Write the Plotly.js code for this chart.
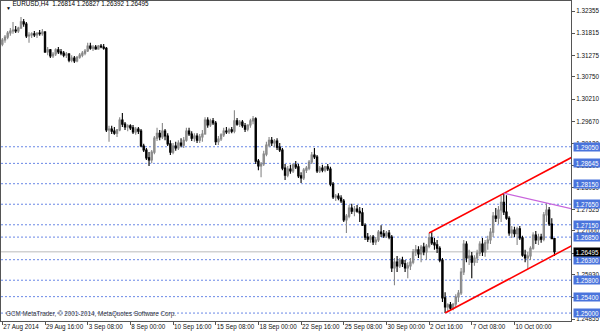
<!DOCTYPE html>
<html>
<head>
<meta charset="utf-8">
<script src="https://cdn.plot.ly/plotly-3.0.1.min.js"></script>
<style>html,body{margin:0;padding:0;background:#fff;}#chart{width:600px;height:333px;}</style>
</head>
<body>
<div id="chart"></div>
<script>
// ---- data (EURUSD H4 bars) ----
const opens = [1.3155,1.3165,1.3172,1.3182,1.3187,1.3189,1.3187,1.3194,1.3209,1.3204,
1.3175,1.3177,1.3180,1.3177,1.3182,1.3180,1.3184,1.3136,1.3141,1.3126,
1.3131,1.3141,1.3136,1.3133,1.3128,1.3131,1.3116,1.3121,1.3114,1.3123,
1.3128,1.3133,1.3138,1.3150,1.3145,1.3148,1.3143,1.3150,1.3148,1.3145,
1.2946,1.2948,1.2943,1.2938,1.2946,1.2970,1.2960,1.2953,1.2956,1.2951,
1.2941,1.2948,1.2943,1.2907,1.2897,1.2878,1.2873,1.2892,1.2926,1.2938,
1.2929,1.2943,1.2931,1.2912,1.2892,1.2907,1.2902,1.2914,1.2909,1.2921,
1.2943,1.2936,1.2926,1.2931,1.2921,1.2929,1.2936,1.2970,1.2958,1.2968,
1.2963,1.2917,1.2924,1.2934,1.2943,1.2941,1.2946,1.2943,1.2968,1.2960,
1.2965,1.2956,1.2948,1.2958,1.2968,1.2973,1.2870,1.2858,1.2863,1.2887,
1.2909,1.2921,1.2914,1.2919,1.2904,1.2897,1.2853,1.2836,1.2851,1.2846,
1.2861,1.2856,1.2834,1.2829,1.2848,1.2853,1.2868,1.2885,1.2880,1.2846,
1.2853,1.2848,1.2856,1.2851,1.2814,1.2783,1.2785,1.2780,1.2773,1.2727,
1.2736,1.2756,1.2748,1.2753,1.2748,1.2744,1.2714,1.2685,1.2680,1.2685,
1.2673,1.2678,1.2697,1.2693,1.2688,1.2695,1.2685,1.2610,1.2624,1.2615,
1.2629,1.2620,1.2610,1.2615,1.2624,1.2649,1.2654,1.2644,1.2661,1.2649,
1.2663,1.2683,1.2671,1.2666,1.2658,1.2629,1.2537,1.2515,1.2520,1.2512,
1.2522,1.2539,1.2549,1.2600,1.2668,1.2634,1.2639,1.2624,1.2634,1.2646,
1.2668,1.2649,1.2671,1.2678,1.2697,1.2736,1.2731,1.2751,1.2770,1.2746,
1.2731,1.2695,1.2702,1.2693,1.2705,1.2683,1.2641,1.2634,1.2639,1.2658,
1.2690,1.2678,1.2685,1.2680,1.2739,1.2751,1.2717,1.26814];
const highs = [1.3170,1.3177,1.3187,1.3194,1.3209,1.3199,1.3197,1.3221,1.3216,1.3209,
1.3184,1.3184,1.3187,1.3184,1.3189,1.3192,1.3187,1.3148,1.3143,1.3136,
1.3145,1.3148,1.3143,1.3138,1.3136,1.3133,1.3128,1.3126,1.3126,1.3133,
1.3138,1.3143,1.3158,1.3158,1.3153,1.3153,1.3153,1.3155,1.3155,1.3148,
1.2956,1.2956,1.2953,1.2948,1.2977,1.2987,1.2965,1.2960,1.2960,1.2958,
1.2953,1.2953,1.2948,1.2912,1.2902,1.2892,1.2897,1.2931,1.2951,1.2946,
1.2963,1.2948,1.2938,1.2921,1.2914,1.2917,1.2921,1.2926,1.2929,1.2951,
1.2951,1.2943,1.2938,1.2938,1.2936,1.2946,1.2977,1.2977,1.2973,1.2975,
1.2968,1.2931,1.2938,1.2951,1.2953,1.2951,1.2953,1.2994,1.2975,1.2970,
1.2970,1.2963,1.2960,1.2973,1.2980,1.2977,1.2875,1.2868,1.2895,1.2917,
1.2929,1.2929,1.2924,1.2926,1.2914,1.2902,1.2863,1.2858,1.2861,1.2865,
1.2870,1.2863,1.2843,1.2853,1.2858,1.2873,1.2892,1.2902,1.2885,1.2858,
1.2861,1.2858,1.2863,1.2856,1.2819,1.2790,1.2792,1.2787,1.2778,1.2741,
1.2763,1.2766,1.2761,1.2763,1.2758,1.2756,1.2719,1.2695,1.2690,1.2690,
1.2685,1.2702,1.2714,1.2702,1.2700,1.2702,1.2690,1.2634,1.2639,1.2634,
1.2637,1.2629,1.2624,1.2634,1.2656,1.2666,1.2663,1.2666,1.2671,1.2668,
1.2695,1.2697,1.2683,1.2678,1.2663,1.2634,1.2551,1.2524,1.2527,1.2524,
1.2546,1.2556,1.2610,1.2678,1.2675,1.2654,1.2649,1.2641,1.2654,1.2675,
1.2683,1.2678,1.2688,1.2707,1.2746,1.2756,1.2761,1.2785,1.2792,1.2787,
1.2736,1.2712,1.2710,1.2710,1.2712,1.2688,1.2654,1.2649,1.2663,1.2697,
1.2700,1.2693,1.2693,1.2746,1.2768,1.2758,1.2731,1.26827];
const lows = [1.3150,1.3158,1.3167,1.3175,1.3180,1.3182,1.3182,1.3192,1.3197,1.3170,
1.3158,1.3170,1.3172,1.3170,1.3175,1.3175,1.3133,1.3128,1.3121,1.3121,
1.3126,1.3131,1.3128,1.3123,1.3121,1.3111,1.3111,1.3109,1.3111,1.3119,
1.3123,1.3128,1.3136,1.3141,1.3138,1.3141,1.3141,1.3145,1.3141,1.2941,
1.2917,1.2936,1.2934,1.2929,1.2943,1.2953,1.2946,1.2943,1.2946,1.2936,
1.2934,1.2936,1.2904,1.2892,1.2873,1.2858,1.2865,1.2887,1.2919,1.2921,
1.2924,1.2921,1.2907,1.2885,1.2887,1.2895,1.2897,1.2904,1.2902,1.2917,
1.2931,1.2919,1.2917,1.2914,1.2914,1.2917,1.2934,1.2951,1.2953,1.2958,
1.2909,1.2909,1.2919,1.2929,1.2936,1.2936,1.2938,1.2938,1.2956,1.2953,
1.2951,1.2941,1.2943,1.2951,1.2960,1.2863,1.2848,1.2831,1.2858,1.2882,
1.2904,1.2907,1.2904,1.2897,1.2892,1.2848,1.2824,1.2831,1.2839,1.2841,
1.2851,1.2829,1.2817,1.2824,1.2841,1.2848,1.2863,1.2875,1.2841,1.2841,
1.2843,1.2843,1.2846,1.2809,1.2778,1.2773,1.2775,1.2768,1.2722,1.2695,
1.2731,1.2741,1.2736,1.2744,1.2722,1.2712,1.2678,1.2673,1.2671,1.2666,
1.2666,1.2673,1.2685,1.2683,1.2683,1.2680,1.2600,1.2568,1.2600,1.2610,
1.2612,1.2600,1.2585,1.2605,1.2619,1.2639,1.2634,1.2624,1.2641,1.2629,
1.2658,1.2666,1.2654,1.2646,1.2624,1.2527,1.2500,1.2503,1.2507,1.2507,
1.2515,1.2527,1.2544,1.2593,1.2624,1.2617,1.2585,1.2615,1.2622,1.2639,
1.2639,1.2637,1.2654,1.2668,1.2685,1.2722,1.2717,1.2722,1.2739,1.2727,
1.2688,1.2683,1.2685,1.2666,1.2678,1.2637,1.2624,1.2607,1.2629,1.2654,
1.2668,1.2666,1.2671,1.2675,1.2722,1.2712,1.2680,1.26392];
const closes = [1.3165,1.3172,1.3182,1.3187,1.3189,1.3187,1.3194,1.3209,1.3204,1.3175,
1.3177,1.3180,1.3177,1.3182,1.3180,1.3184,1.3136,1.3141,1.3126,1.3131,
1.3141,1.3136,1.3133,1.3128,1.3131,1.3116,1.3121,1.3114,1.3123,1.3128,
1.3133,1.3138,1.3150,1.3145,1.3148,1.3143,1.3150,1.3148,1.3145,1.2946,
1.2948,1.2943,1.2938,1.2946,1.2970,1.2960,1.2953,1.2956,1.2951,1.2941,
1.2948,1.2943,1.2907,1.2897,1.2878,1.2873,1.2892,1.2926,1.2938,1.2929,
1.2943,1.2931,1.2912,1.2892,1.2907,1.2902,1.2914,1.2909,1.2921,1.2943,
1.2936,1.2926,1.2931,1.2921,1.2929,1.2936,1.2970,1.2958,1.2968,1.2963,
1.2917,1.2924,1.2934,1.2943,1.2941,1.2946,1.2943,1.2968,1.2960,1.2965,
1.2956,1.2948,1.2958,1.2968,1.2973,1.2870,1.2858,1.2863,1.2887,1.2909,
1.2921,1.2914,1.2919,1.2904,1.2897,1.2853,1.2836,1.2851,1.2846,1.2861,
1.2856,1.2834,1.2829,1.2848,1.2853,1.2868,1.2885,1.2880,1.2846,1.2853,
1.2848,1.2856,1.2851,1.2814,1.2783,1.2785,1.2780,1.2773,1.2727,1.2736,
1.2756,1.2748,1.2753,1.2748,1.2744,1.2714,1.2685,1.2680,1.2685,1.2673,
1.2678,1.2697,1.2693,1.2688,1.2695,1.2685,1.2610,1.2624,1.2615,1.2629,
1.2620,1.2610,1.2615,1.2624,1.2649,1.2654,1.2644,1.2661,1.2649,1.2663,
1.2683,1.2671,1.2666,1.2658,1.2629,1.2537,1.2515,1.2520,1.2512,1.2522,
1.2539,1.2549,1.2600,1.2668,1.2634,1.2639,1.2624,1.2634,1.2646,1.2668,
1.2649,1.2671,1.2678,1.2697,1.2736,1.2731,1.2751,1.2770,1.2746,1.2731,
1.2695,1.2702,1.2693,1.2705,1.2683,1.2641,1.2634,1.2639,1.2658,1.2690,
1.2678,1.2685,1.2680,1.2739,1.2751,1.2717,1.26814,1.26495];

const xTickIdx  = [0,16,32,48,64,80,96,112,128,144,160,176,192];
const xTickText = ["27 Aug 2014","29 Aug 16:00","3 Sep 08:00","8 Sep 00:00","10 Sep 16:00",
  "15 Sep 08:00","18 Sep 00:00","22 Sep 16:00","25 Sep 08:00","30 Sep 00:00",
  "2 Oct 16:00","7 Oct 08:00","10 Oct 00:00"];
const yTickVals = [1.32355,1.31815,1.31275,1.30750,1.30210,1.29670,1.29130,1.28590,
  1.28050,1.27525,1.27000,1.26460,1.25930,1.25390,1.24855];
const yTickText = ["1.32355","1.31815","1.31275","1.30750","1.30210","1.29670","1.29130","1.28590",
  "1.28050","1.27525","1.27000","1.26460","1.25930","1.25390","1.24855"];
const levels = [1.29050,1.28645,1.28150,1.27650,1.27150,1.26850,1.26300,1.25800,1.25400,1.25000];
const levelText = ["1.29050","1.28645","1.28150","1.27650","1.27150","1.26850","1.26300","1.25800","1.25400","1.25000"];
const currentPrice = 1.26495;
const currentText = "1.26495";
// trend lines: [bar index], [price]
const upperX = [160, 214], upperY = [1.2695, 1.2881];
const lowerX = [166, 214], lowerY = [1.2500, 1.2666];
const purpleX = [188, 214], purpleY = [1.2792, 1.2753];
const titleText = "EURUSD,H4  1.26814 1.26827 1.26392 1.26495";
const copyrightText = "GCM MetaTrader, © 2001-2014, MetaQuotes Software Corp.";

const idx = opens.map((_, i) => i);
const FONT = "Liberation Sans, Arial, sans-serif";

const traces = [
  {type:'candlestick', x: idx, open: opens, high: highs, low: lows, close: closes,
   increasing:{line:{color:'#888888', width:1.1}, fillcolor:'#aaaaaa'},
   decreasing:{line:{color:'#000000', width:1.1}, fillcolor:'#000000'},
   whiskerwidth:0, hoverinfo:'skip', showlegend:false},
  {type:'scatter', mode:'lines', x: upperX, y: upperY, line:{color:'#ff0000', width:1.6}, hoverinfo:'skip', showlegend:false},
  {type:'scatter', mode:'lines', x: lowerX, y: lowerY, line:{color:'#ff0000', width:1.6}, hoverinfo:'skip', showlegend:false},
  {type:'scatter', mode:'lines', x: purpleX, y: purpleY, line:{color:'#c864dc', width:1.3}, hoverinfo:'skip', showlegend:false}
];

const shapes = levels.map(v => ({type:'line', xref:'paper', x0:0, x1:1, yref:'y', y0:v, y1:v,
  line:{color:'rgb(105,135,230)', width:1, dash:'2px,2px'}, layer:'below'}));
shapes.push({type:'line', xref:'paper', x0:0, x1:1, yref:'y', y0:currentPrice, y1:currentPrice,
  line:{color:'#d2d2d2', width:1.5}, layer:'below'});

const annotations = levels.map((v, i) => ({xref:'paper', x:1, xanchor:'left', xshift:2,
  yref:'y', y:v, yanchor:'middle', text:levelText[i], showarrow:false,
  bgcolor:'#4a74dc', font:{family:FONT, size:6.3, color:'#ffffff'}, borderpad:0.5, width:26, height:7}));
annotations.push({xref:'paper', x:1, xanchor:'left', xshift:2, yref:'y', y:currentPrice, yanchor:'middle',
  text:currentText, showarrow:false, bgcolor:'#000000', font:{family:FONT, size:6.3, color:'#ffffff'},
  borderpad:0.5, width:26, height:7});
annotations.push({xref:'paper', x:0, xanchor:'left', xshift:3, yref:'paper', y:0, yanchor:'bottom', yshift:1,
  text:copyrightText, showarrow:false, font:{family:FONT, size:6.3, color:'#333333'}});
annotations.push({xref:'paper', x:0, xanchor:'left', xshift:3, yref:'paper', y:1, yanchor:'top', yshift:-2,
  text:'▼', showarrow:false, font:{family:FONT, size:5, color:'#000000'}});

const layout = {
  width:600, height:333,
  margin:{l:1, r:29, t:1, b:12, pad:0},
  paper_bgcolor:'#ffffff', plot_bgcolor:'#ffffff',
  title:{text:titleText, x:12/600, xanchor:'left', xref:'paper', y:1-2/333, yref:'container', yanchor:'top',
    font:{family:FONT, size:6.3, color:'#000000'}},
  showlegend:false,
  xaxis:{type:'linear', range:[-0.5, 213.2], tickmode:'array', tickvals:xTickIdx, ticktext:xTickText,
    ticks:'outside', ticklen:3, tickcolor:'#555', ticklabelposition:'outside right', tickangle:0,
    ticklabelstandoff:-1,
    tickfont:{family:FONT, size:6.3, color:'#111'}, showgrid:false, zeroline:false,
    showline:true, linecolor:'#555', linewidth:1, mirror:true, rangeslider:{visible:false}, fixedrange:true},
  yaxis:{range:[1.24807, 1.32599], side:'right', tickmode:'array', tickvals:yTickVals, ticktext:yTickText,
    ticks:'outside', ticklen:3, tickcolor:'#555', tickfont:{family:FONT, size:6.3, color:'#111'},
    showgrid:false, zeroline:false, showline:true, linecolor:'#555', linewidth:1, mirror:true, fixedrange:true},
  shapes: shapes,
  annotations: annotations
};

Plotly.newPlot('chart', traces, layout, {staticPlot:true, displayModeBar:false});
</script>
</body>
</html>
